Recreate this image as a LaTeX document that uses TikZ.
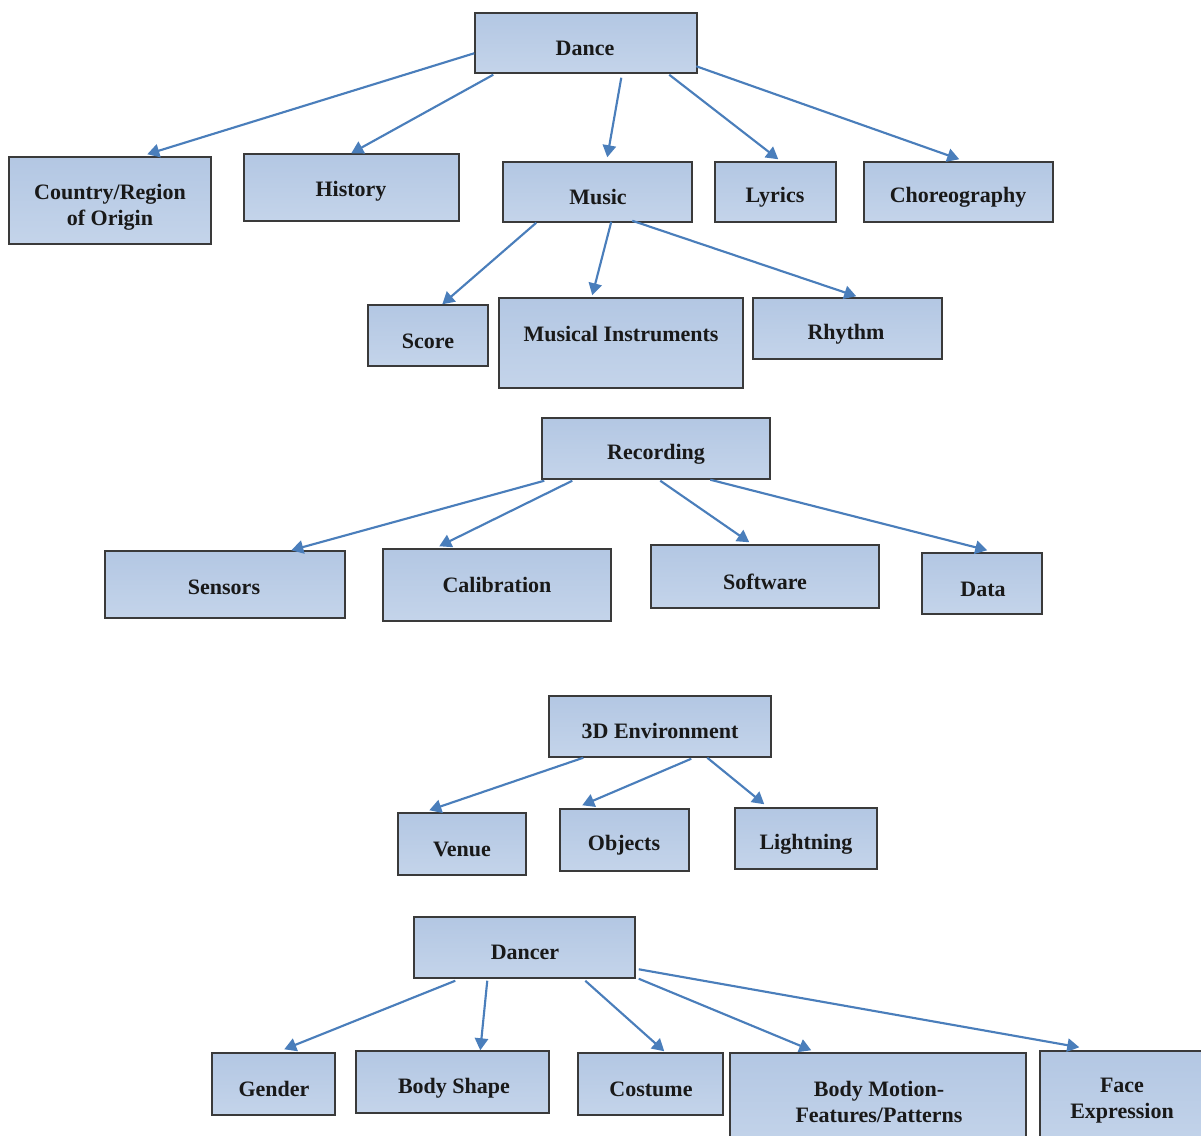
\documentclass[tikz,border=0pt]{standalone}
\usepackage{fontspec}
\setmainfont{Liberation Serif}
\usetikzlibrary{arrows.meta,calc,shadows}
\definecolor{boxblue}{HTML}{B3C7E3}
\definecolor{boxlight}{HTML}{C4D4EA}
\definecolor{arrblue}{HTML}{4A7EBB}
\definecolor{boxline}{HTML}{3A3A3A}
\tikzset{
  box/.style={rectangle, draw=boxline, line width=1.1pt, inner sep=0pt,
    top color=boxblue, middle color=boxblue, bottom color=boxlight,
    drop shadow={shadow xshift=1.1pt, shadow yshift=-1.1pt, fill=black!50, opacity=0.5}},
  lbl/.style={font=\bfseries\fontsize{16.5}{19.5}\selectfont, align=center, inner sep=0pt, text=black!90},
  arr/.style={draw=arrblue, line width=1.6pt, -{Triangle[length=9pt,width=10pt]}}
}
\newcommand\bx[8]{%
  \node[box, minimum width={(#4-#2)*0.75pt}, minimum height={(#5-#3)*0.75pt}] (#1) at ({(#2+#4)/2},{(#3+#5)/2}) {};
  \node[lbl] (#1t) at (#7,#8) {#6};}
\begin{document}
\begin{tikzpicture}[x=0.75pt, y=-0.75pt]
\useasboundingbox (0,0) rectangle (1201,1135);
% Dance tree
\bx{dance}{475}{13}{697}{73}{Dance}{585}{48}
\bx{country}{9}{157}{211}{244}{Country/Region\\of Origin}{110}{207}
\bx{history}{244}{154}{459}{221}{History}{351}{191}
\bx{music}{503}{162}{692}{222}{Music}{598}{197}
\bx{lyrics}{715}{162}{836}{222}{Lyrics}{775}{197}
\bx{choreo}{864}{162}{1053}{222}{Choreography}{958}{197}
\bx{score}{368}{305}{488}{366}{Score}{428}{341}
\bx{instr}{499}{298}{743}{388}{Musical Instruments}{621}{334}
\bx{rhythm}{753}{298}{942}{359}{Rhythm}{846}{334}
% Recording
\bx{rec}{542}{418}{770}{479}{Recording}{656}{454}
\bx{sensors}{105}{551}{345}{618}{Sensors}{224}{587}
\bx{calib}{383}{549}{611}{621}{Calibration}{497}{585}
\bx{soft}{651}{545}{879}{608}{Software}{765}{582}
\bx{data}{922}{553}{1042}{614}{Data}{983}{589}
% 3D environment
\bx{env}{549}{696}{771}{757}{3D Environment}{660}{731}
\bx{venue}{398}{813}{526}{875}{Venue}{462}{849}
\bx{objects}{560}{809}{689}{871}{Objects}{624}{845}
\bx{light}{735}{808}{877}{869}{Lightning}{806}{844}
% Dancer
\bx{dancer}{414}{917}{635}{978}{Dancer}{525}{952}
\bx{gender}{212}{1053}{335}{1115}{Gender}{274}{1089}
\bx{shape}{356}{1051}{549}{1113}{Body Shape}{454}{1088}
\bx{costume}{578}{1053}{723}{1115}{Costume}{651}{1089}
\bx{motion}{730}{1053}{1026}{1150}{Body Motion-\\Features/Patterns}{879}{1102}
\bx{face}{1040}{1051}{1212}{1150}{Face\\Expression}{1122}{1101}
% arrows
\draw[arr] ($(dance.north west)+(0,41)$) -- ($(country.north west)+(139,-2)$);
\draw[arr] ($(dance.south west)+(19,1)$) -- ($(history.north west)+(108,0)$);
\draw[arr] ($(dance.south west)+(147,4)$) -- ($(music.north west)+(105,-4)$);
\draw[arr] ($(dance.south west)+(195,1)$) -- ($(lyrics.north west)+(64,-2)$);
\draw[arr] ($(dance.north west)+(222,54)$) -- ($(choreo.north west)+(96,-2)$);
\draw[arr] ($(music.south west)+(34,0)$) -- ($(score.north west)+(75,0)$);
\draw[arr] ($(music.south west)+(109,-1)$) -- ($(instr.north west)+(94,-2)$);
\draw[arr] ($(music.south west)+(130,-2)$) -- ($(rhythm.north west)+(104,-1)$);
\draw[arr] ($(rec.south west)+(3,1)$) -- ($(sensors.north west)+(187,0)$);
\draw[arr] ($(rec.south west)+(31,1)$) -- ($(calib.north west)+(57,-2)$);
\draw[arr] ($(rec.south west)+(119,1)$) -- ($(soft.north west)+(99,-2)$);
\draw[arr] ($(rec.south west)+(169,0)$) -- ($(data.north west)+(66,-2)$);
\draw[arr] ($(env.south west)+(35,0)$) -- ($(venue.north west)+(32,-2)$);
\draw[arr] ($(env.south west)+(143,1)$) -- ($(objects.north west)+(23,-3)$);
\draw[arr] ($(env.south west)+(159,0)$) -- ($(light.north west)+(30,-3)$);
\draw[arr] ($(dancer.south west)+(42,2)$) -- ($(gender.north west)+(73,-3)$);
\draw[arr] ($(dancer.south west)+(74,2)$) -- ($(shape.north west)+(125,0)$);
\draw[arr] ($(dancer.south west)+(172,2)$) -- ($(costume.north west)+(87,-1)$);
\draw[arr] ($(dancer.south east)+(3,0)$) -- ($(motion.north west)+(82,-2)$);
\draw[arr] ($(dancer.north east)+(3,53)$) -- ($(face.north west)+(40,-3)$);
\end{tikzpicture}
\end{document}
